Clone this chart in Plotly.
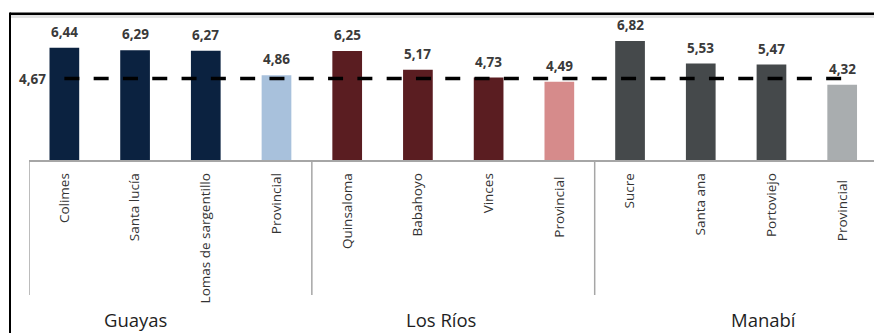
import plotly.graph_objects as go

# Data
categories = ["Colimes", "Santa lucía", "Lomas de sargentillo", "Provincial",
              "Quinsaloma", "Babahoyo", "Vinces", "Provincial ",
              "Sucre", "Santa ana", "Portoviejo", "Provincial  "]
values = [6.44, 6.29, 6.27, 4.86, 6.25, 5.17, 4.73, 4.49, 6.82, 5.53, 5.47, 4.32]
value_labels = ["6,44", "6,29", "6,27", "4,86", "6,25", "5,17", "4,73", "4,49",
                "6,82", "5,53", "5,47", "4,32"]
bar_colors = ["#0b2240", "#0b2240", "#0b2240", "#a8c1dc",
              "#5a1d21", "#5a1d21", "#5a1d21", "#d68b8b",
              "#45494b", "#45494b", "#45494b", "#a9adaf"]
groups = ["Guayas", "Los Ríos", "Manabí"]
national_avg = 4.67
national_label = "4,67"

W, H = 874, 333
ML, MR, MT, MB = 29, 0, 14, 173
PW, PH = W - ML - MR, H - MT - MB


def px_x(px):
    return (px - ML) / PW


def px_y(py):
    return (H - MB - py) / PH


fig = go.Figure()

fig.add_trace(go.Bar(
    x=list(range(len(categories))), y=values,
    marker=dict(color=bar_colors, line=dict(width=0)),
    width=0.42, hoverinfo="skip",
))

# National average as a dashed reference line
fig.add_trace(go.Scatter(
    x=list(range(len(categories))), y=[national_avg] * len(categories),
    mode="lines", line=dict(color="black", width=3.5, dash="15px,14.3px"),
    hoverinfo="skip",
))

annotations = []
for i, (v, t) in enumerate(zip(values, value_labels)):
    annotations.append(dict(
        x=i, y=v, xref="x", yref="y", text=f"<b>{t}</b>", showarrow=False,
        yanchor="bottom", yshift=5,
        font=dict(family="Open Sans", size=13.5, color="#3a3a3a"),
    ))

annotations.append(dict(
    x=px_x(48), y=national_avg, xref="paper", yref="y",
    text=f"<b>{national_label}</b>", showarrow=False,
    xanchor="right", yanchor="middle",
    font=dict(family="Open Sans", size=13.5, color="#3a3a3a"),
))

group_centers_px = [135, 441, 763]
for g, cx in zip(groups, group_centers_px):
    annotations.append(dict(
        x=px_x(cx), y=px_y(333), xref="paper", yref="paper", text=g,
        showarrow=False, xanchor="center", yanchor="bottom", borderpad=0,
        font=dict(family="Open Sans", size=18.5, color="#1e1e1e"),
    ))

shapes = []
# group separators below the axis
for xs in [-0.5, 3.5, 7.5]:
    shapes.append(dict(type="line", xref="x", yref="paper",
                       x0=xs, x1=xs, y0=0, y1=px_y(295),
                       line=dict(color="#a6a6a6", width=1.5)))
# outer frame: top and left edges
shapes.append(dict(type="rect", xref="paper", yref="paper",
                   x0=px_x(10), x1=px_x(W + 5), y0=px_y(18), y1=px_y(15),
                   fillcolor="#e2e2e2", line=dict(width=0), layer="below"))
shapes.append(dict(type="line", xref="paper", yref="paper",
                   x0=px_x(10), x1=px_x(W + 5), y0=px_y(13.8), y1=px_y(13.8),
                   line=dict(color="black", width=2.5)))
shapes.append(dict(type="line", xref="paper", yref="paper",
                   x0=px_x(10), x1=px_x(10), y0=px_y(12.5), y1=px_y(H + 5),
                   line=dict(color="black", width=2)))

fig.update_layout(
    width=W, height=H,
    margin=dict(l=ML, r=MR, t=MT, b=MB, pad=0),
    paper_bgcolor="white", plot_bgcolor="white",
    showlegend=False, bargap=0.58,
    annotations=annotations, shapes=shapes,
    xaxis=dict(
        range=[-0.5, 11.45], tickmode="array",
        tickvals=list(range(len(categories))), ticktext=categories,
        tickangle=-90, ticks="", ticklabelstandoff=6,
        tickfont=dict(family="Open Sans", size=13.5, color="#333333"),
        showline=True, linecolor="#a6a6a6", linewidth=1.5,
        showgrid=False, zeroline=False, fixedrange=True,
    ),
    yaxis=dict(range=[0, PH / 17.44], visible=False, showgrid=False,
               zeroline=False, fixedrange=True),
)

fig.write_html("out.html")
